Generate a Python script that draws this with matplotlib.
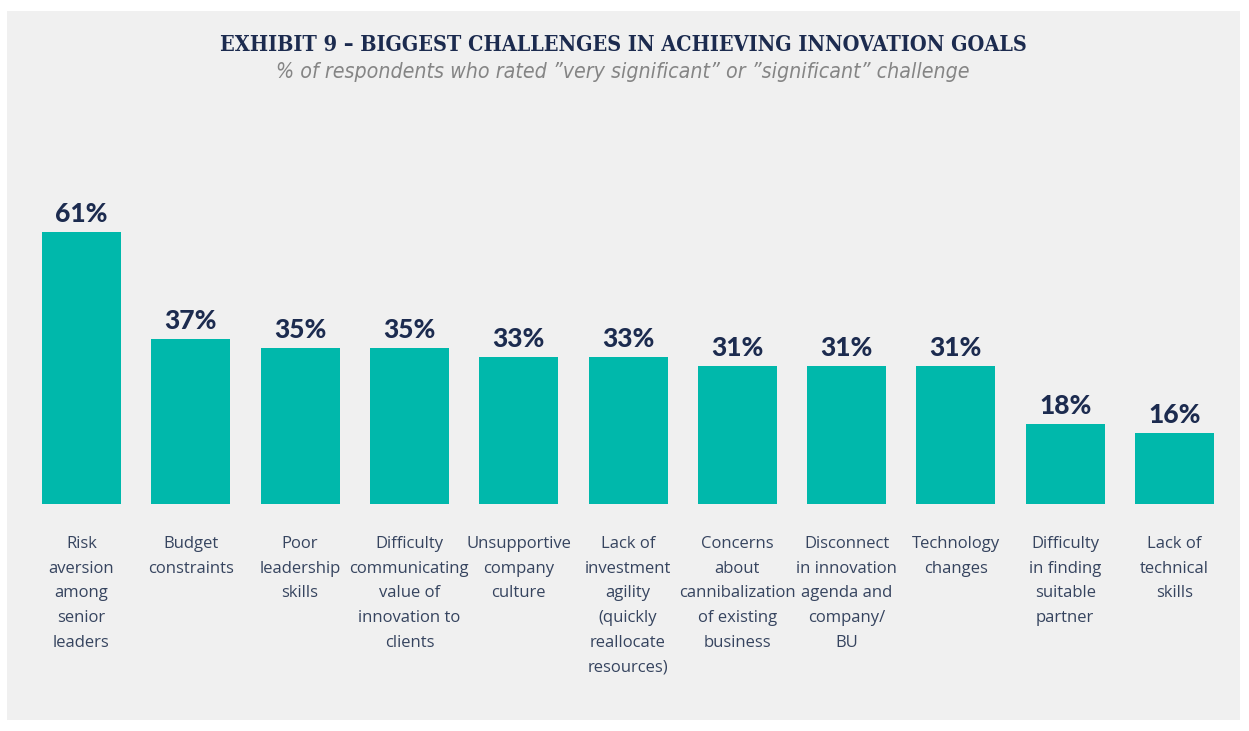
import matplotlib
matplotlib.use("Agg")
import numpy as np
from matplotlib import pyplot as plt
from matplotlib.patches import Rectangle

# Data
categories = [
    "Risk\naversion\namong\nsenior\nleaders",
    "Budget\nconstraints",
    "Poor\nleadership\nskills",
    "Difficulty\ncommunicating\nvalue of\ninnovation to\nclients",
    "Unsupportive\ncompany\nculture",
    "Lack of\ninvestment\nagility\n(quickly\nreallocate\nresources)",
    "Concerns\nabout\ncannibalization\nof existing\nbusiness",
    "Disconnect\nin innovation\nagenda and\ncompany/\nBU",
    "Technology\nchanges",
    "Difficulty\nin finding\nsuitable\npartner",
    "Lack of\ntechnical\nskills",
]
values = [61, 37, 35, 35, 33, 33, 31, 31, 31, 18, 16]

title = "EXHIBIT 9 \u2013 BIGGEST CHALLENGES IN ACHIEVING INNOVATION GOALS"
subtitle = "% of respondents who rated \u201dvery significant\u201d or \u201dsignificant\u201d challenge"

bar_color = "#00b8ab"
navy = "#1c2b4f"
label_color = "#36445f"
panel_color = "#f0f0f0"

W, H = 1249, 731
fig = plt.figure(figsize=(W / 100, H / 100), dpi=100)
fig.patch.set_facecolor("white")

# grey panel behind the chart
fig.patches.append(Rectangle((7 / W, 11 / H), 1233 / W, 709 / H,
                             transform=fig.transFigure, facecolor=panel_color,
                             edgecolor="none", zorder=-5))

# axes: bar base at y=504px, x centres from 81.5px, step 109.3px
step = 109.3
x0 = 81.5
base_px = 504
top_px = 100
px_per_unit = 4.46
ax = fig.add_axes([0, (H - base_px) / H, 1, (base_px - top_px) / H])
ax.set_zorder(2)
ax.set_xlim(-x0 / step, (W - x0) / step)
ax.set_ylim(0, (base_px - top_px) / px_per_unit)
ax.patch.set_alpha(0)
for s in ax.spines.values():
    s.set_visible(False)

x = np.arange(len(values))
ax.bar(x, values, width=79 / step, color=bar_color, zorder=2)

for xi, v in zip(x, values):
    ax.annotate(f"{v}%", (xi, v), xytext=(0, 4), textcoords="offset points",
                ha="center", va="bottom", fontsize=19, fontweight=900,
                color=navy, family="Lato")

ax.set_yticks([])
ax.set_xticks(x)
ax.set_xticklabels(categories, fontsize=12, color=label_color,
                   family="Open Sans", linespacing=1.72)
ax.tick_params(axis="x", length=0, pad=23)

fig.text(623 / W, 1 - 45 / H, title, ha="center", va="center",
         fontsize=15.5, fontweight="bold", color=navy,
         family="DejaVu Serif", fontstretch="condensed")
fig.text(623 / W, 1 - 72 / H, subtitle, ha="center", va="center",
         fontsize=15.3, style="italic", color="#858585",
         family="DejaVu Sans", fontstretch="condensed")

fig.savefig("out.png", dpi=100, facecolor=fig.get_facecolor())
